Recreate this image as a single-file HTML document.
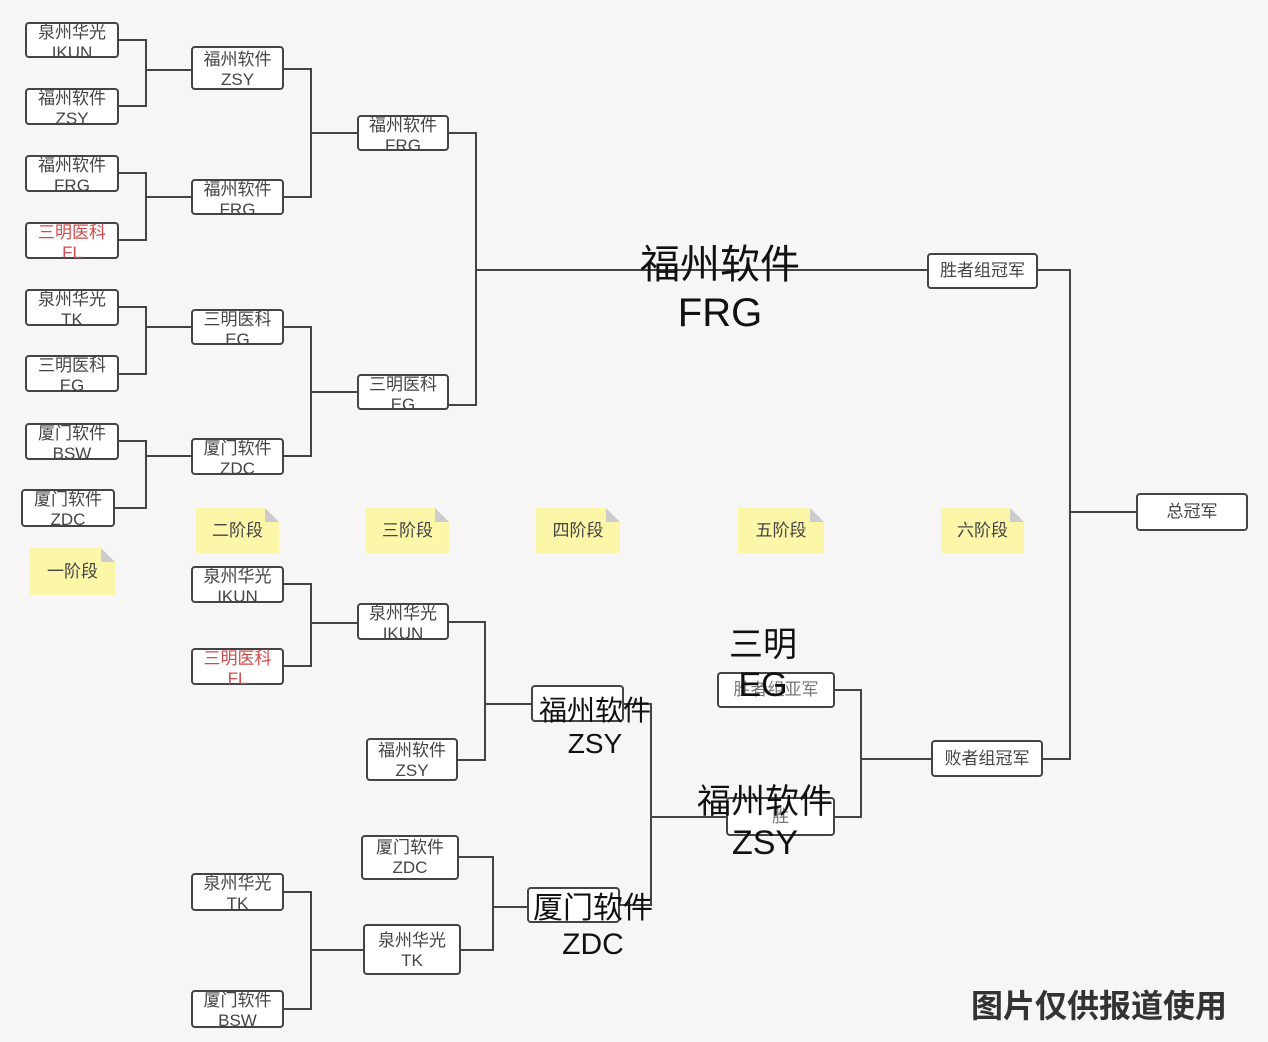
<!DOCTYPE html>
<html><head><meta charset="utf-8"><style>
body{margin:0;width:1268px;height:1042px;background:#f6f6f6;position:relative;overflow:hidden;font-family:"Liberation Sans","Noto Sans CJK SC",sans-serif;}
.b{position:absolute;box-sizing:border-box;border:2px solid #444;border-radius:4px;background:#fff;color:#444;font-size:17px;line-height:20px;text-align:center;overflow:visible}
.b span{display:block;margin-top:-1px}
.r{color:#d24a4a}
.n{position:absolute;background:#fbf6a8;color:#444;font-size:17px;text-align:center;box-sizing:border-box}
.n:after{content:"";position:absolute;right:0;top:0;border-style:solid;border-width:0 14px 14px 0;border-color:#f6f6f6 #f6f6f6 #ccc #ccc}
.o{position:absolute;color:#111;text-align:center;white-space:nowrap;font-family:"Liberation Sans","Noto Sans CJK SC",sans-serif}
svg{position:absolute;left:0;top:0}
</style></head><body>
<svg width="1268" height="1042" fill="none" stroke="#444" stroke-width="2">
<path d="M119 40H146V106H119M146 70H191"/>
<path d="M119 173H146V240H119M146 197H191"/>
<path d="M119 307H146V374H119M146 327H191"/>
<path d="M119 441H146V508H115M146 456H191"/>
<path d="M284 69H311V197H284M311 133H357"/>
<path d="M284 327H311V456H284M311 392H357"/>
<path d="M449 133H476V405H449M476 270H927"/>
<path d="M1038 270H1070V759H1043M1070 512H1136"/>
<path d="M284 584H311V666H284M311 623H357"/>
<path d="M449 622H485V760H458M485 704H531"/>
<path d="M624 704H651V905H620M651 817H726"/>
<path d="M459 857H493V950H461M493 907H527"/>
<path d="M284 892H311V1009H284M311 950H363"/>
<path d="M835 690H861V817H835M861 759H931"/>
</svg>
<div class="b" style="left:25px;top:22px;width:94px;height:36px"><span>泉州华光<br>IKUN</span></div>
<div class="b" style="left:25px;top:88px;width:94px;height:37px"><span>福州软件<br>ZSY</span></div>
<div class="b" style="left:25px;top:155px;width:94px;height:37px"><span>福州软件<br>FRG</span></div>
<div class="b r" style="left:25px;top:222px;width:94px;height:37px"><span>三明医科<br>FL</span></div>
<div class="b" style="left:25px;top:289px;width:94px;height:37px"><span>泉州华光<br>TK</span></div>
<div class="b" style="left:25px;top:355px;width:94px;height:37px"><span>三明医科<br>EG</span></div>
<div class="b" style="left:25px;top:423px;width:94px;height:37px"><span>厦门软件<br>BSW</span></div>
<div class="b" style="left:21px;top:489px;width:94px;height:38px"><span>厦门软件<br>ZDC</span></div>
<div class="b" style="left:191px;top:46px;width:93px;height:44px"><span style="margin-top:2px">福州软件<br>ZSY</span></div>
<div class="b" style="left:191px;top:179px;width:93px;height:36px"><span>福州软件<br>FRG</span></div>
<div class="b" style="left:191px;top:309px;width:93px;height:36px"><span>三明医科<br>EG</span></div>
<div class="b" style="left:191px;top:438px;width:93px;height:37px"><span>厦门软件<br>ZDC</span></div>
<div class="b" style="left:357px;top:115px;width:92px;height:36px"><span>福州软件<br>FRG</span></div>
<div class="b" style="left:357px;top:374px;width:92px;height:36px"><span>三明医科<br>EG</span></div>
<div class="b" style="left:927px;top:253px;width:111px;height:36px;line-height:32px">胜者组冠军</div>
<div class="b" style="left:1136px;top:493px;width:112px;height:38px;line-height:34px">总冠军</div>
<div class="b" style="left:931px;top:740px;width:112px;height:37px;line-height:33px">败者组冠军</div>
<div class="b" style="left:191px;top:566px;width:93px;height:37px"><span>泉州华光<br>IKUN</span></div>
<div class="b r" style="left:191px;top:648px;width:93px;height:37px"><span>三明医科<br>FL</span></div>
<div class="b" style="left:357px;top:603px;width:92px;height:37px"><span>泉州华光<br>IKUN</span></div>
<div class="b" style="left:366px;top:738px;width:92px;height:43px"><span style="margin-top:1px">福州软件<br>ZSY</span></div>
<div class="b" style="left:531px;top:685px;width:93px;height:37px"></div>
<div class="b" style="left:361px;top:835px;width:98px;height:45px"><span style="margin-top:1px">厦门软件<br>ZDC</span></div>
<div class="b" style="left:363px;top:924px;width:98px;height:51px"><span style="margin-top:5px">泉州华光<br>TK</span></div>
<div class="b" style="left:527px;top:887px;width:93px;height:36px"></div>
<div class="b" style="left:191px;top:873px;width:93px;height:38px"><span>泉州华光<br>TK</span></div>
<div class="b" style="left:191px;top:990px;width:93px;height:38px"><span>厦门软件<br>BSW</span></div>
<div class="b" style="left:717px;top:672px;width:118px;height:36px;line-height:32px;color:#777">胜者组亚军</div>
<div class="b" style="left:726px;top:797px;width:109px;height:39px;line-height:35px;color:#777">胜</div>
<div class="n" style="left:30px;top:548px;width:85px;height:47px;line-height:47px">一阶段</div>
<div class="n" style="left:196px;top:508px;width:83px;height:45px;line-height:45px">二阶段</div>
<div class="n" style="left:366px;top:508px;width:83px;height:45px;line-height:45px">三阶段</div>
<div class="n" style="left:536px;top:508px;width:84px;height:45px;line-height:45px">四阶段</div>
<div class="n" style="left:738px;top:508px;width:86px;height:45px;line-height:45px">五阶段</div>
<div class="n" style="left:941px;top:508px;width:83px;height:45px;line-height:45px">六阶段</div>
<div class="o" style="left:620px;top:241px;width:200px;font-size:40px;line-height:48px">福州软件<br>FRG</div>
<div class="o" style="left:713px;top:625px;width:100px;font-size:34px;line-height:40px">三明<br>EG</div>
<div class="o" style="left:520px;top:694px;width:150px;font-size:28px;line-height:33px">福州软件<br>ZSY</div>
<div class="o" style="left:680px;top:782px;width:170px;font-size:34px;line-height:41px">福州软件<br>ZSY</div>
<div class="o" style="left:518px;top:891px;width:150px;font-size:30px;line-height:36px">厦门软件<br>ZDC</div>
<div class="o" style="left:971px;top:986px;font-size:32px;font-weight:bold;color:#333;line-height:40px">图片仅供报道使用</div>
</body></html>
